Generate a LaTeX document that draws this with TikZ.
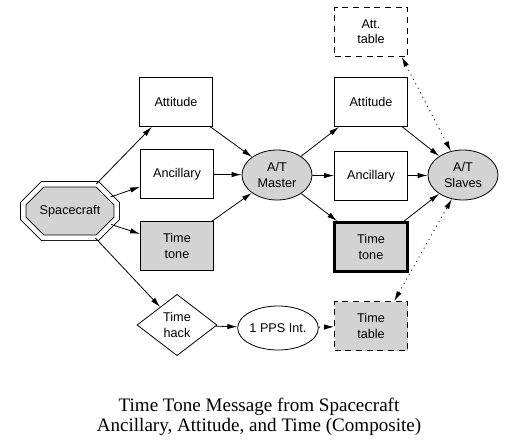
\documentclass[tikz,border=0pt]{standalone}
\usepackage{fontspec}
\setmainfont{Liberation Serif}
\setsansfont{Liberation Sans}
\usetikzlibrary{shapes.geometric,shapes.misc,arrows.meta}

\definecolor{boxgray}{RGB}{211,211,211}

\begin{document}
\begin{tikzpicture}[x=0.75pt, y=-0.75pt, >={Latex[length=7.5pt,width=4pt]},
    every node/.style={font=\sffamily\fontsize{9.5}{11.5}\selectfont, align=center, line width=0.6pt},
    box/.style={draw, rectangle, minimum width=54.75pt, minimum height=36.75pt, inner sep=1pt},
    graybox/.style={box, fill=boxgray},
    dashbox/.style={box, dash pattern=on 4.5pt off 3.5pt},
    oval/.style={draw, ellipse, fill=boxgray, minimum width=52.5pt, minimum height=37.5pt, inner sep=0pt},
    link/.style={->, line width=0.6pt},
    dotlink/.style={link, dash pattern=on 0.8pt off 3pt}]
    \useasboundingbox (0,0) rectangle (516,447);

    % ==================== NGUON ====================
    \node[draw, chamfered rectangle, chamfered rectangle xsep=15pt, chamfered rectangle ysep=10pt,
          minimum width=70pt, minimum height=40pt, inner sep=0pt, fill=boxgray,
          double, double distance=3.5pt] (craft) at (70,211) {Spacecraft};

    % Cot ben trai
    \node[box] (attL) at (176,102) {Attitude};
    \node[box] (ancL) at (177,174) {Ancillary};
    \node[graybox] (toneL) at (177,246) {Time\\tone};
    \node[draw, diamond, minimum width=60pt, minimum height=46pt, inner sep=0pt] (hack) at (177,325) {Time\\hack};

    % Tram chu
    \node[oval] (master) at (277,175) {A/T\\Master};
    \node[oval, fill=none, minimum width=57pt, minimum height=33pt] (pps) at (278,328) {1 PPS Int.};

    % Cot ben phai
    \node[dashbox] (atab) at (371,32) {Att.\\table};
    \node[box] (attR) at (371,102) {Attitude};
    \node[box] (ancR) at (371,176) {Ancillary};
    \node[graybox, line width=2.25pt] (toneR) at (371,247) {Time\\tone};
    \node[dashbox, fill=boxgray] (ttab) at (371,326) {Time\\table};

    % Tram phu
    \node[oval] (slaves) at (463,175) {A/T\\Slaves};

    % ==================== CAC MUI TEN ====================
    \draw[link] (craft) -- (attL);
    \draw[link] (craft) -- (ancL);
    \draw[link] (craft) -- (toneL);
    \draw[link] (craft) -- (hack);

    \draw[link] (attL) -- (master);
    \draw[link] (ancL) -- (master);
    \draw[link] (toneL) -- (master);

    \draw[link] (master) -- (attR);
    \draw[link] (master) -- (ancR);
    \draw[link] (master) -- (toneR);

    \draw[link] (attR) -- (slaves);
    \draw[link] (ancR) -- (slaves);
    \draw[link] (toneR) -- (slaves);

    % Bang tra cuu (net cham, hai chieu)
    \draw[dotlink, <->] (atab.321) -- (slaves.117);
    \draw[dotlink, <->] (ttab.47) -- (slaves.245);

    \draw[link] (hack) -- (pps);
    \draw[dotlink] (pps) -- (ttab);

    % Chu thich
    \node[font=\rmfamily\fontsize{14.3}{15}\selectfont] (caption) at (259,417)
        {Time Tone Message from Spacecraft\\Ancillary, Attitude, and Time (Composite)};
\end{tikzpicture}
\end{document}
